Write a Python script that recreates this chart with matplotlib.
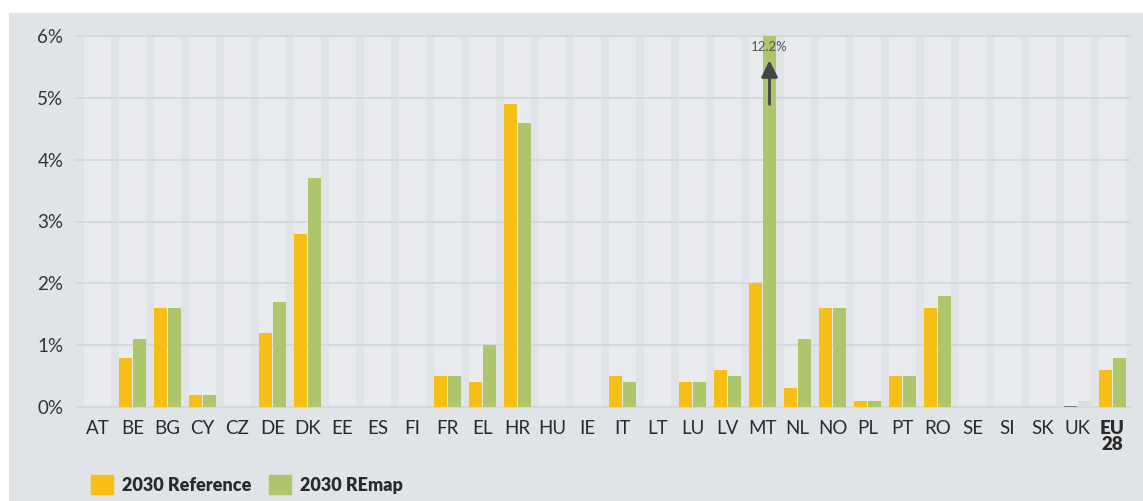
import numpy as np
import matplotlib.pyplot as plt
from matplotlib.patches import Rectangle

plt.rcParams['font.family'] = ['Lato', 'DejaVu Sans']

# Dados
paises = ['AT', 'BE', 'BG', 'CY', 'CZ', 'DE', 'DK', 'EE', 'ES', 'FI', 'FR', 'EL',
          'HR', 'HU', 'IE', 'IT', 'LT', 'LU', 'LV', 'MT', 'NL', 'NO', 'PL', 'PT',
          'RO', 'SE', 'SI', 'SK', 'UK', 'EU\n28']
referencia = [0, 0.8, 1.6, 0.2, 0, 1.2, 2.8, 0, 0, 0, 0.5, 0.4,
              4.9, 0, 0, 0.5, 0, 0.4, 0.6, 2.0, 0.3, 1.6, 0.1, 0.5,
              1.6, 0, 0, 0, 0.02, 0.6]
remap = [0, 1.1, 1.6, 0.2, 0, 1.7, 3.7, 0, 0, 0, 0.5, 1.0,
         4.6, 0, 0, 0.4, 0, 0.4, 0.5, 12.2, 1.1, 1.6, 0.1, 0.5,
         1.8, 0, 0, 0, 0.1, 0.8]
yticks = [0, 1, 2, 3, 4, 5, 6]

cor_ref = '#f7be16'
cor_remap = '#adc66c'
fundo = '#e1e4e7'
faixa = '#e9ebef'

fig = plt.figure(figsize=(11.43, 5.01), dpi=100)
fig.patch.set_facecolor('white')
fig.patches.append(Rectangle((9 / 1143, 0), 1, 1 - 13 / 501, transform=fig.transFigure,
                             facecolor=fundo, edgecolor='none', zorder=-10))

ax = fig.add_axes([80 / 1143, 1 - 407 / 501, 1050 / 1143, 371 / 501])
ax.set_facecolor(fundo)

x = np.arange(len(paises))
ymax = yticks[-1]

# Faixas claras por país
for xi in x:
    ax.add_patch(Rectangle((xi - 0.385, 0), 0.77, ymax, facecolor=faixa,
                           edgecolor='none', zorder=0))

# Linhas de grade
for t in yticks:
    ax.axhline(t, xmin=-0.004, xmax=1, color='#d2d5d9', linewidth=1.2,
               clip_on=False, zorder=1)

w = 0.37
cores_ref = [cor_ref] * len(paises)
cores_remap = [cor_remap] * len(paises)
cores_ref[28] = '#7a7a7a'
cores_remap[28] = '#dcdcdc'
ax.bar(x - w / 2 - 0.015, referencia, w, color=cores_ref, zorder=2, label='2030 Reference')
ax.bar(x + w / 2 + 0.015, np.minimum(remap, ymax), w, color=cores_remap, zorder=2,
       label='2030 REmap')

# Seta para o valor fora da escala (MT)
i_mt = paises.index('MT')
xm = i_mt + w / 2 + 0.015
ax.annotate('', xy=(xm, 5.65), xytext=(xm, 4.85),
            arrowprops=dict(arrowstyle='-|>', color='#444444', lw=2,
                            mutation_scale=25), zorder=3)
ax.text(xm, 5.82, f'{remap[i_mt]}%', ha='center', va='center', fontsize=9.5,
        color='#555555', zorder=4)

ax.set_xlim(-0.5, len(paises) - 0.5)
ax.set_ylim(0, ymax)
ax.set_yticks(yticks)
ax.set_yticklabels([f'{t}%' for t in yticks], fontsize=13.5, color='#333333')
ax.set_xticks(x)
ax.set_xticklabels(paises, fontsize=13.5, color='#2a2a2a', va='top', linespacing=1.0)
ax.get_xticklabels()[-1].set_fontweight('heavy')
ax.tick_params(length=0, axis='y', pad=12)
ax.tick_params(length=0, axis='x', pad=9)
for s in ax.spines.values():
    s.set_visible(False)

leg = fig.legend(handles=[Rectangle((0, 0), 1, 1, color=cor_ref),
                          Rectangle((0, 0), 1, 1, color=cor_remap)],
                 labels=['2030 Reference', '2030 REmap'], loc='lower left',
                 bbox_to_anchor=(75 / 1143, -0.018), ncol=2, frameon=False,
                 prop={'weight': 'heavy', 'size': 13}, handlelength=1.2,
                 handleheight=1.2, handletextpad=0.5, columnspacing=1.0)
for t in leg.get_texts():
    t.set_color('#2a2a2a')

plt.savefig('out.png', dpi=100, facecolor=fig.get_facecolor())
